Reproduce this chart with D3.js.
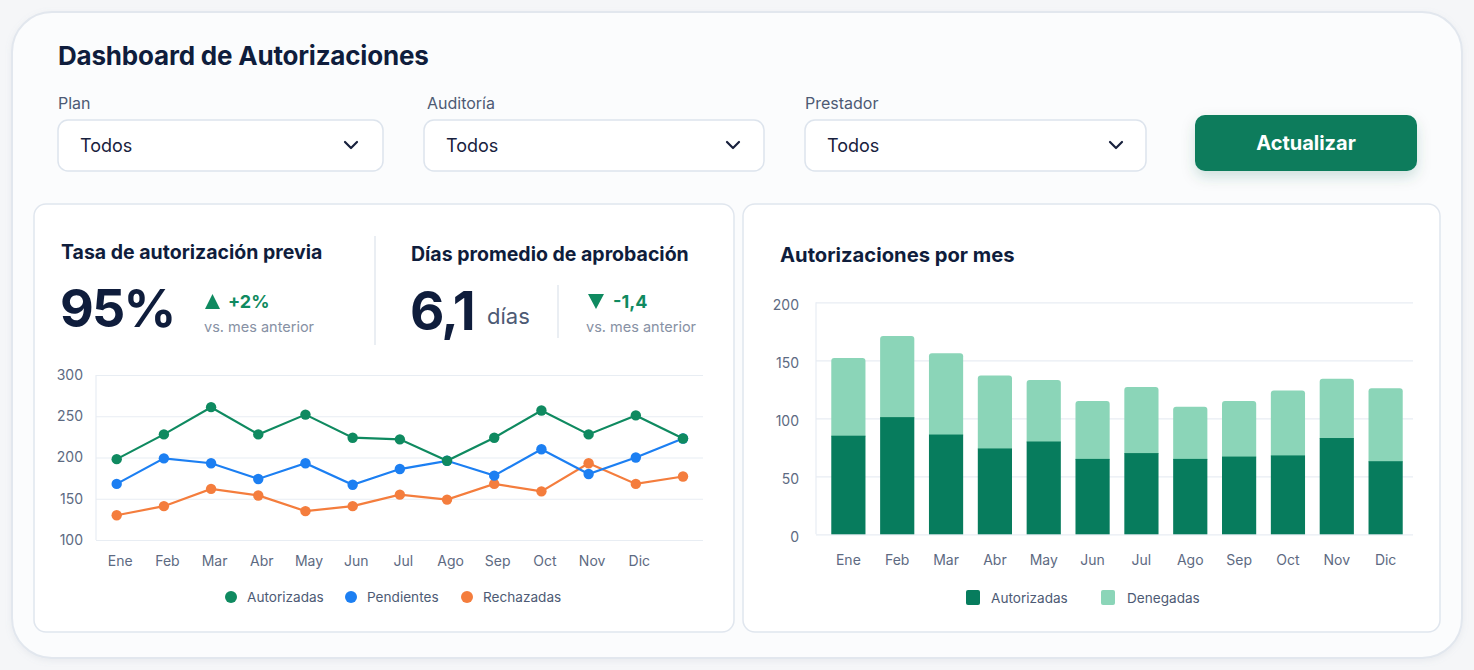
<!DOCTYPE html>
<html><head><meta charset="utf-8">
<script src="https://cdn.jsdelivr.net/npm/d3@7"></script>
<style>
html,body{margin:0;padding:0;background:#f5f6f8;}
svg{display:block;font-family:Inter,"Noto Sans",sans-serif;}
</style></head>
<body>
<svg id="c" width="1474" height="670"></svg>
<script>
// ---- data ----
const months = ["Ene","Feb","Mar","Abr","May","Jun","Jul","Ago","Sep","Oct","Nov","Dic"];
const lineSlots = ["Ene","Feb","Mar","Abr","May","Jun","Jul","Ago","Sep","Oct","Nov","Dic",""];
const autorizadasLine = [198,228,261,228,252,224,222,196,224,257,228,251,223];
const pendientesLine  = [168,199,193,174,193,167,186,196,178,210,180,200,223];
const rechazadasLine  = [130,141,162,154,135,141,155,149,168,159,193,168,177];
const lineTicks = [100,150,200,250,300];
const autorizadasBar = [85,101,86,74,80,65,70,65,67,68,83,63];
const denegadasBar   = [67,70,70,63,53,50,57,45,48,56,51,63];
const barTicks = [0,50,100,150,200];
const filterLabels = ["Plan","Auditoría","Prestador"];
const filterValues = ["Todos","Todos","Todos"];

// ---- styles ----
const NAVY="#0f1d3c", MUTED="#4d5a74", AXIS="#5d6a82", GRID="#e8edf3";
const GREEN="#0f8a60", BLUE="#1c7ff2", ORANGE="#f47d3d";
const DARK="#077c5d", LIGHT="#8bd5b8";

const svg = d3.select("#c");
const defs = svg.append("defs");
const f1 = defs.append("filter").attr("id","sh").attr("x","-20%").attr("y","-20%").attr("width","140%").attr("height","160%");
f1.append("feDropShadow").attr("dx",0).attr("dy",6).attr("stdDeviation",7).attr("flood-color","#0b5a45").attr("flood-opacity",0.18);
const f2 = defs.append("filter").attr("id","sh2").attr("x","-5%").attr("y","-5%").attr("width","110%").attr("height","115%");
f2.append("feDropShadow").attr("dx",0).attr("dy",2).attr("stdDeviation",3).attr("flood-color","#8090a8").attr("flood-opacity",0.12);

// outer card
svg.append("rect").attr("x",12).attr("y",12).attr("width",1450).attr("height",646).attr("rx",40)
  .attr("fill","#fbfcfd").attr("stroke","#e2e7ee").attr("stroke-width",2).attr("filter","url(#sh2)");

function text(g,x,y,str,o){
  const t=g.append("text").attr("x",x).attr("y",y).text(str)
    .attr("font-size",o.size).attr("font-weight",o.weight||400).attr("fill",o.fill||NAVY)
    .attr("dominant-baseline",o.base||"central").attr("text-anchor",o.anchor||"start");
  if(o.ls!==undefined) t.attr("letter-spacing",o.ls);
  return t;
}

// title
text(svg,58,55,"Dashboard de Autorizaciones",{size:26,weight:700,ls:-0.2});

// filters
const filterX=[58,424,805], filterW=[325,340,341], chevX=[351,733,1116], labelX=[58,427,805];
filterLabels.forEach((l,i)=>{
  text(svg,labelX[i],103,l,{size:16,fill:MUTED});
  svg.append("rect").attr("x",filterX[i]).attr("y",120).attr("width",filterW[i]).attr("height",51).attr("rx",10)
    .attr("fill","#ffffff").attr("stroke","#dde4ed").attr("stroke-width",1.5);
  text(svg,filterX[i]+22,145,filterValues[i],{size:18,fill:"#18213d"});
  svg.append("path").attr("d",`M${chevX[i]-6},${142} L${chevX[i]},${148} L${chevX[i]+6},${142}`)
    .attr("fill","none").attr("stroke","#18213d").attr("stroke-width",2.2).attr("stroke-linecap","round").attr("stroke-linejoin","round");
});
// button
svg.append("rect").attr("x",1195).attr("y",115).attr("width",222).attr("height",56).attr("rx",10)
  .attr("fill","#087c5c").attr("filter","url(#sh)");
text(svg,1306,143,"Actualizar",{size:20,weight:700,fill:"#ffffff",anchor:"middle"});

// panels
[[34,700],[743,697]].forEach(([x,w])=>{
  svg.append("rect").attr("x",x).attr("y",204).attr("width",w).attr("height",428).attr("rx",12)
    .attr("fill","#ffffff").attr("stroke","#e0e6ee").attr("stroke-width",1.5);
});

// KPI section
text(svg,61,252,"Tasa de autorización previa",{size:19.5,weight:700});
text(svg,60,327,"95%",{size:52,weight:700,base:"alphabetic",ls:-1.8});
svg.append("path").attr("d","M205,309 L212.5,294 L220,309 Z").attr("fill",GREEN);
text(svg,228,301,"+2%",{size:18,weight:700,fill:GREEN});
text(svg,204,326,"vs. mes anterior",{size:14.5,fill:"#8791a4"});
svg.append("line").attr("x1",375).attr("x2",375).attr("y1",236).attr("y2",345).attr("stroke","#e3e8ef").attr("stroke-width",1.5);
text(svg,411,254,"Días promedio de aprobación",{size:19.5,weight:700});
text(svg,410,330,"6,1",{size:53,weight:700,base:"alphabetic",ls:-1.5});
text(svg,487,316,"días",{size:22,fill:MUTED});
svg.append("line").attr("x1",558).attr("x2",558).attr("y1",285).attr("y2",338).attr("stroke","#e3e8ef").attr("stroke-width",1.5);
svg.append("path").attr("d","M588,294 L604,294 L596,309 Z").attr("fill",GREEN);
text(svg,613,301,"-1,4",{size:18,weight:700,fill:GREEN});
text(svg,586,326,"vs. mes anterior",{size:14.5,fill:"#8791a4"});

// ---- line chart ----
const lx = d3.scalePoint().domain(lineSlots).range([116.7,683]);
const ly = d3.scaleLinear().domain([100,300]).range([540,375]);
const lg = svg.append("g");
lg.append("g").attr("transform","translate(96,0)")
  .call(d3.axisLeft(ly).tickValues(lineTicks).tickSize(-607).tickPadding(13))
  .call(g=>{g.select(".domain").remove();
    g.selectAll(".tick line").attr("stroke",GRID).attr("stroke-width",1.2);
    g.selectAll(".tick text").attr("fill",AXIS).attr("font-size",14).attr("font-family","Inter");});
lg.append("line").attr("x1",96).attr("x2",96).attr("y1",375).attr("y2",540).attr("stroke",GRID).attr("stroke-width",1.2);
lg.append("g").attr("transform","translate(3,540)")
  .call(d3.axisBottom(lx).tickSize(0).tickPadding(16))
  .call(g=>{g.select(".domain").remove();
    g.selectAll(".tick text").attr("fill",AXIS).attr("font-size",14).attr("font-family","Inter");});
const series=[{v:autorizadasLine,c:GREEN,n:"Autorizadas"},{v:pendientesLine,c:BLUE,n:"Pendientes"},{v:rechazadasLine,c:ORANGE,n:"Rechazadas"}];
const line=d3.line().x((d,i)=>lx(lineSlots[i])).y(d=>ly(d));
[2,1,0].forEach(k=>{
  const s=series[k];
  lg.append("path").datum(s.v).attr("d",line).attr("fill","none").attr("stroke",s.c).attr("stroke-width",2.2);
  lg.selectAll(null).data(s.v).enter().append("circle")
    .attr("cx",(d,i)=>lx(lineSlots[i])).attr("cy",d=>ly(d)).attr("r",5.2).attr("fill",s.c);
});
// legend
const legX=[231,351,467];
series.forEach((s,i)=>{
  svg.append("circle").attr("cx",legX[i]).attr("cy",597).attr("r",6).attr("fill",s.c);
  text(svg,legX[i]+16,597,s.n,{size:13.6,fill:MUTED});
});

// ---- bar chart ----
text(svg,780,254,"Autorizaciones por mes",{size:20.2,weight:700});
const bx = d3.scaleBand().domain(months).range([822,1412]).paddingInner(0.3).paddingOuter(0.19);
const by = d3.scaleLinear().domain([0,200]).range([534.3,302.3]);
const bg = svg.append("g");
bg.append("g").attr("transform","translate(816,0)")
  .call(d3.axisLeft(by).tickValues(barTicks).tickSize(-597).tickPadding(17))
  .call(g=>{g.select(".domain").remove();
    g.selectAll(".tick line").attr("stroke",GRID).attr("stroke-width",1.2);
    g.selectAll(".tick text").attr("fill",AXIS).attr("font-size",14).attr("font-family","Inter").attr("dy","0.5em");});
bg.append("line").attr("x1",816).attr("x2",816).attr("y1",302.3).attr("y2",534.3).attr("stroke",GRID).attr("stroke-width",1.2);
bg.append("g").attr("transform","translate(0,534.3)")
  .call(d3.axisBottom(bx).tickSize(0).tickPadding(21))
  .call(g=>{g.select(".domain").remove();
    g.selectAll(".tick text").attr("fill",AXIS).attr("font-size",14).attr("font-family","Inter");});
const stacked = months.map((m,i)=>({m,a:autorizadasBar[i],d:denegadasBar[i]}));
function topRounded(x,y,w,h,r){
  return `M${x},${y+h} L${x},${y+r} Q${x},${y} ${x+r},${y} L${x+w-r},${y} Q${x+w},${y} ${x+w},${y+r} L${x+w},${y+h} Z`;
}
bg.selectAll(".den").data(stacked).enter().append("path")
  .attr("d",d=>{const y0=by(d.a+d.d), y1=by(d.a); return topRounded(bx(d.m),y0,bx.bandwidth(),y1-y0+1,3);})
  .attr("fill",LIGHT);
bg.selectAll(".aut").data(stacked).enter().append("rect")
  .attr("x",d=>bx(d.m)).attr("y",d=>by(d.a)).attr("width",bx.bandwidth()).attr("height",d=>by(0)-by(d.a))
  .attr("fill",DARK);
// legend
svg.append("rect").attr("x",966).attr("y",590).attr("width",14).attr("height",15).attr("rx",2).attr("fill",DARK);
text(svg,991,598,"Autorizadas",{size:13.6,fill:MUTED});
svg.append("rect").attr("x",1101).attr("y",590).attr("width",14).attr("height",15).attr("rx",2).attr("fill",LIGHT);
text(svg,1127,598,"Denegadas",{size:13.6,fill:MUTED});
</script>
</body></html>
